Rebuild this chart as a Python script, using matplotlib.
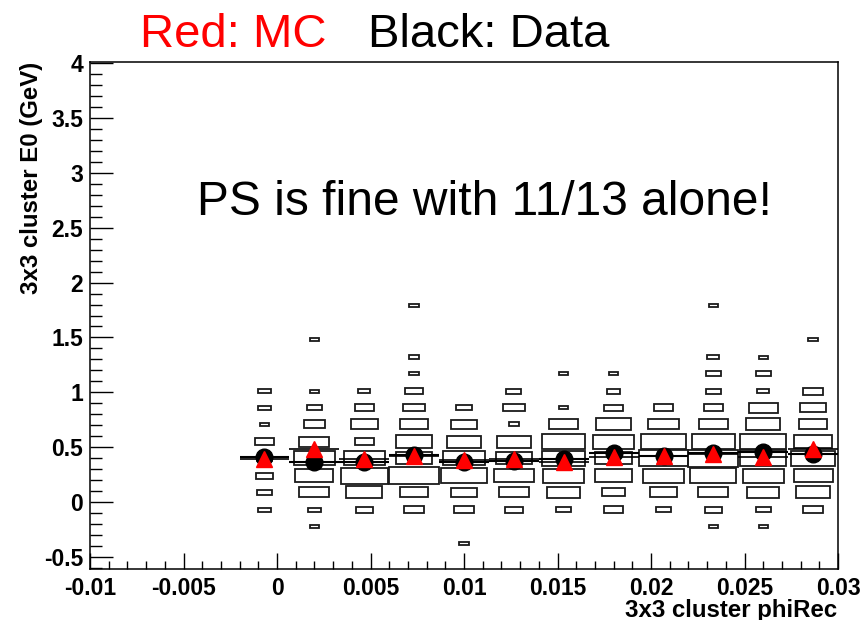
import numpy as np
import matplotlib
matplotlib.use("Agg")
import matplotlib.pyplot as plt
from matplotlib.patches import Rectangle
from matplotlib.ticker import MultipleLocator, FuncFormatter

# ---- data ----
x_centers = [-0.00067, 0.00200, 0.00467, 0.00733, 0.01000, 0.01267,
             0.01533, 0.01800, 0.02067, 0.02333, 0.02600, 0.02867]
y_levels = [-0.38, -0.22, -0.07, 0.09, 0.24, 0.40, 0.55, 0.71,
            0.86, 1.01, 1.17, 1.32, 1.48, 1.63, 1.79]
# counts[column][level]
counts = [
    [0,   0, 2,  3,  4,  3,  5,  1,   2,   2, 0,   0,   0,   0, 0],
    [0,   1, 2, 12, 19, 22, 12,  6,   3,   1, 0,   0,   1,   0, 0],
    [0,   0, 4, 17, 29, 23,  5, 10,   5,   2, 0,   0,   0,   0, 0],
    [0,   0, 5, 10, 33, 18, 18, 11,   6,   4, 1.5, 1.5, 0,   0, 1.5],
    [1.5, 0, 5,  9, 27, 24, 16,  9,   3,   0, 0,   0,   0,   0, 0],
    [0,   0, 4, 12, 21, 18, 16, 1.5, 6,   3, 0,   0,   0,   0, 0],
    [0,   0, 3, 14, 22, 25, 25, 11,  1,   0, 1,   0,   0,   0, 0],
    [0,   0, 5,  7, 18, 18, 22, 17,  4.5, 2.5, 1, 0,   0,   0, 0],
    [0,   0, 3, 10, 22, 32, 28, 12,  5,   0, 0,   0,   0,   0, 0],
    [0,   1, 4, 12, 28, 33, 25, 11,  5,   3, 3,   2,   0,   0, 1],
    [0,   1, 3, 14, 22, 28, 28, 15, 11,   2, 3,   1,   0,   0, 0],
    [0,   0, 5, 15, 20, 26, 19, 10,  9,   5, 0,   0,   1.5, 0, 0],
]
data_mean = [0.41, 0.36, 0.36, 0.43, 0.36, 0.37, 0.39, 0.45, 0.42, 0.45, 0.46, 0.44]
mc_mean   = [0.39, 0.48, 0.39, 0.42, 0.38, 0.39, 0.36, 0.41, 0.42, 0.44, 0.41, 0.48]

x_ticks = [-0.01, -0.005, 0, 0.005, 0.01, 0.015, 0.02, 0.025, 0.03]
y_ticks = [-0.5, 0, 0.5, 1, 1.5, 2, 2.5, 3, 3.5, 4]

# ---- style ----
W, H = 865, 620
fig = plt.figure(figsize=(W / 100, H / 100), dpi=100)
ax = fig.add_axes([90 / W, 1 - 569 / H, (838 - 90) / W, (569 - 61.7) / H])

bin_w = 0.04 / 15
bin_h = 0.155
cmax = max(max(r) for r in counts)

for xc, col in zip(x_centers, counts):
    for yc, c in zip(y_levels, col):
        if c <= 0:
            continue
        f = np.sqrt(c / cmax)
        w, h = bin_w * f, bin_h * f
        ax.add_patch(Rectangle((xc - w / 2, yc - h / 2), w, h, fill=False,
                               ec="#1a1a1a", lw=1.3, zorder=2))

ax.errorbar(x_centers, data_mean, xerr=bin_w / 2, fmt="o", color="black",
            ms=12, elinewidth=1.5, capsize=0, zorder=3)
ax.errorbar(x_centers, mc_mean, xerr=bin_w / 2, fmt="^", mfc="red", mec="red",
            ecolor="black", ms=11.5, elinewidth=1.2, capsize=0, zorder=4)

ax.set_xlim(-0.01, 0.03)
ax.set_ylim(-0.611, 4.014)

ax.set_xticks(x_ticks)
ax.set_yticks(y_ticks)
ax.xaxis.set_minor_locator(MultipleLocator(0.001))
ax.yaxis.set_minor_locator(MultipleLocator(0.1))
fmt = FuncFormatter(lambda v, p: "%g" % round(v, 6))
ax.xaxis.set_major_formatter(fmt)
ax.yaxis.set_major_formatter(fmt)

fam = ["Liberation Sans", "DejaVu Sans"]
for t in ax.get_xticklabels() + ax.get_yticklabels():
    t.set_fontfamily(fam)
    t.set_fontweight("bold")
    t.set_fontsize(16.5)

ax.tick_params(axis="both", which="both", direction="in", top=False, right=False,
               width=1.0, color="black")
ax.tick_params(axis="y", which="major", length=16.5, pad=5)
ax.tick_params(axis="y", which="minor", length=8.5)
ax.tick_params(axis="x", which="major", length=11.5, pad=5.5)
ax.tick_params(axis="x", which="minor", length=5.8)
for s in ax.spines.values():
    s.set_linewidth(1.1)

fig.text(837 / W, 1 - 616.5 / H, "3x3 cluster phiRec", ha="right", va="baseline",
         fontsize=17.3, fontweight="bold", family=fam)
fig.text(32 / W, 1 - 62 / H, "3x3 cluster E0 (GeV)", ha="center", va="top",
         rotation=90, fontsize=17.3, fontweight="bold", family=fam)

fig.text(140 / W, 1 - 47 / H, "Red: MC", color="red", fontsize=34,
         ha="left", va="baseline", family=fam)
fig.text(368 / W, 1 - 47 / H, "Black: Data", color="black", fontsize=34,
         ha="left", va="baseline", family=fam)
fig.text(197 / W, 1 - 215 / H, "PS is fine with 11/13 alone!", color="black",
         fontsize=34.5, ha="left", va="baseline", family=fam)

fig.savefig("out.png", dpi=100)
